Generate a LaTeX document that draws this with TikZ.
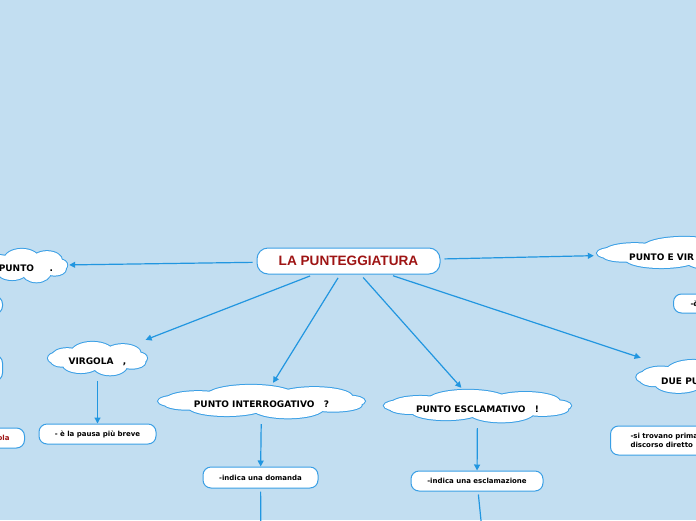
\documentclass[tikz,border=0pt]{standalone}
\usepackage{fontspec}
\setmainfont{DejaVu Sans}
\newfontfamily\titlefont{Liberation Sans}
\usetikzlibrary{arrows.meta}
\definecolor{bgc}{HTML}{C2DEF1}
\definecolor{lnc}{HTML}{2196E0}
\definecolor{bdc}{HTML}{3A9FE5}
\definecolor{tred}{HTML}{9E1414}
\tikzset{
 cl/.style={rectangle, draw=none, inner sep=0pt, text height=12pt, text depth=0pt, font=\bfseries\fontsize{9}{10}\selectfont},
 cltext/.style={inner sep=0pt, font=\bfseries\fontsize{9}{10}\selectfont},
 rbox/.style={rectangle, rounded corners=8pt, draw=bdc, fill=white, line width=1pt, font=\bfseries\fontsize{7}{9}\selectfont, inner sep=0pt},
 arr/.style={draw=lnc, line width=1.2pt, -{Triangle[width=6pt,length=6pt]}},
 plainline/.style={draw=lnc, line width=1.2pt},
}
\newcommand{\lobelist}{-0.1/-0.33/0.42/0.62, 0.5/-0.28/0.36/0.54, -0.6/-0.15/0.3/0.44, -0.8/-0.02/0.18/0.32, 0.82/-0.02/0.16/0.32, 0.68/0.2/0.27/0.38, 0.25/0.38/0.34/0.58, -0.33/0.33/0.36/0.5, -0.7/0.15/0.22/0.32, 0/0/0.8/0.55}
\newcommand{\drawcloud}[4]{%
 \begin{scope}[shift={(#1,#2)}, x=#3pt, y=-#4pt]
  \foreach \cx/\cy/\rx/\ry in \lobelist {\draw[bdc, line width=2pt] (\cx,\cy) ellipse [x radius=\rx, y radius=\ry];}
  \foreach \cx/\cy/\rx/\ry in \lobelist {\fill[white] (\cx,\cy) ellipse [x radius=\rx, y radius=\ry];}
 \end{scope}}
\begin{document}
\begin{tikzpicture}[x=1pt,y=-1pt]
\useasboundingbox (0,0) rectangle (696,520);
\clip (0,0) rectangle (696,520);
\fill[bgc] (0,0) rectangle (696,520);

% central node
\node[rbox, rounded corners=11pt, minimum width=183pt, minimum height=26pt, font=\titlefont\bfseries\fontsize{13.6}{15}\selectfont, text=tred] (c) at (348.5,261) {LA PUNTEGGIATURA};

% clouds (outline drawn, then named node holding the text)
\drawcloud{26}{265.5}{42}{17.5}
\node[cl, minimum width=86pt, minimum height=37pt] (punto) at (26,265.5) {PUNTO\ \ \ \ \ .};
\drawcloud{97.5}{358.5}{50.5}{17.5}
\node[cl, minimum width=103pt, minimum height=37pt] (virgola) at (97.5,358.5) {VIRGOLA\ \ \ ,};
\drawcloud{261.5}{401.5}{105.5}{17.5}
\node[cl, minimum width=213pt, minimum height=37pt] (interr) at (261.5,401.5) {PUNTO INTERROGATIVO\ \ \ ?};
\drawcloud{477.5}{406}{95.5}{17}
\node[cl, minimum width=193pt, minimum height=36pt] (escl) at (477.5,406) {PUNTO ESCLAMATIVO\ \ \ !};
\drawcloud{694}{253.5}{99}{17.5}
\node[cl, minimum width=200pt, minimum height=37pt] (pv) at (694,253.5) {};
\node[cltext, anchor=west] (pvt) at (629,257) {PUNTO E VIR};
\drawcloud{700}{377.5}{65}{18.5}
\node[cl, minimum width=132pt, minimum height=39pt] (due) at (700,377.5) {};
\node[cltext, anchor=west] (duet) at (661,381) {DUE PU};

% boxes
\node[rbox, minimum width=117pt, minimum height=20pt] (vr) at (97.5,434) {- è la pausa più breve};
\node[rbox, minimum width=115pt, minimum height=21pt] (ir) at (260.5,477.5) {-indica una domanda};
\node[rbox, minimum width=132pt, minimum height=20pt] (er) at (477,481) {-indica una esclamazione};
\node[rbox, anchor=west, minimum height=29pt, text width=100pt, inner xsep=20pt, align=left] (dr) at (610,440.5) {-si trovano prima\\discorso diretto};
\node[rbox, anchor=west, minimum height=19pt, text width=40pt, inner xsep=17pt, align=left] (pvr) at (673,303.5) {-è};
\node[rbox, anchor=east, minimum width=60pt, minimum height=18pt] (l1) at (3,305) {};
\node[rbox, anchor=east, minimum width=60pt, minimum height=26pt] (l2) at (3,368) {};
\node[rbox, anchor=east, minimum height=20pt, text width=60pt, inner xsep=15pt, align=right, text=tred] (l3) at (25,438) {ola};

% connectors
\draw[arr, shorten <=4pt] (c) -- (punto);
\draw[arr, shorten <=4pt] (c) -- (pv);
\draw[arr, shorten <=4pt] (c) -- (virgola);
\draw[arr, shorten <=4pt] (c) -- (interr);
\draw[arr, shorten <=4pt] (c) -- (escl);
\draw[arr, shorten <=4pt] (c) -- (due);
\draw[arr, shorten <=4pt] (virgola) -- (vr);
\draw[arr, shorten <=4pt] (interr) -- (ir);
\draw[arr, shorten <=4pt] (escl) -- (er);
\coordinate (d1) at (261,540);
\coordinate (d2) at (483,540);
\draw[plainline, shorten <=3pt] (ir) -- (d1);
\draw[plainline, shorten <=3pt] (er) -- (d2);
\end{tikzpicture}
\end{document}
